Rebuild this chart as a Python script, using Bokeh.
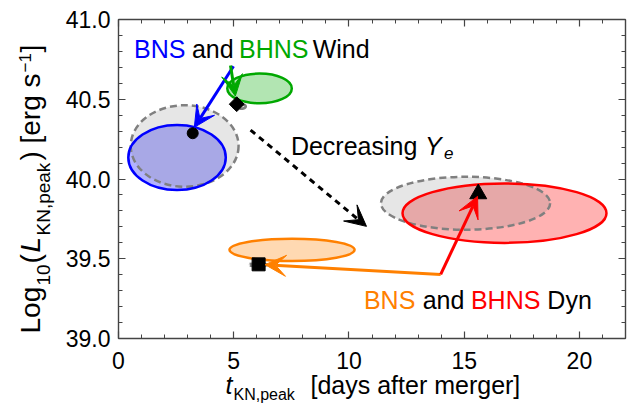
from math import pi
from bokeh.plotting import figure
from bokeh.models import (Range1d, LinearAxis, SingleIntervalTicker, PrintfTickFormatter,
                          CustomJSTickFormatter, Label, Arrow, VeeHead)
from bokeh.embed import file_html
from bokeh.resources import INLINE

# ---------------- data ----------------
# main (coloured) ellipses: BNS wind, BHNS wind, BNS dyn, BHNS dyn
ell_names = ["BNS Wind", "BHNS Wind", "BNS Dyn", "BHNS Dyn"]
ell_x = [2.54, 6.12, 7.53, 16.75]
ell_y = [40.135, 40.568, 39.556, 39.786]
ell_w = [4.23, 2.80, 5.43, 8.85]
ell_h = [0.408, 0.186, 0.140, 0.373]

# grey dashed ellipses (decreasing Ye)
alt_x = [2.87, 5.25, 6.05, 15.06]
alt_y = [40.207, 40.455, 39.462, 39.848]
alt_w = [4.68, 0.55, 0.85, 7.34]
alt_h = [0.511, 0.030, 0.018, 0.332]

# black markers
pt_x = [3.22, 5.13, 6.08, 15.61]
pt_y = [40.287, 40.469, 39.465, 39.907]

# arrows: BNS wind, BHNS wind, decreasing Ye, BNS dyn, BHNS dyn
arr_x0 = [4.99, 4.86, 5.73, 13.98, 13.98]
arr_y0 = [40.707, 40.712, 40.307, 39.402, 39.402]
arr_x1 = [3.29, 5.07, 10.76, 6.36, 15.58]
arr_y1 = [40.324, 40.520, 39.703, 39.463, 39.891]

x_lim = [0, 22]
y_lim = [39, 41]
x_tick_interval = 5
y_tick_interval = 0.5

# ---------------- layout / styles ----------------
W, H = 627, 403
# canvas pixels of the data frame
FL, FR, FT, FB = 118.0, 625.0, 19.0, 338.0
sx = (FR - FL) / (x_lim[1] - x_lim[0])
sy = (FB - FT) / (y_lim[1] - y_lim[0])
x_range = Range1d(x_lim[0] - FL / sx, x_lim[1] + (W - FR) / sx)
y_range = Range1d(y_lim[0] - (H - FB) / sy, y_lim[1] + FT / sy)


def xd(px):
    return x_lim[0] + (px - FL) / sx


def yd(py):
    return y_lim[0] + (FB - py) / sy


ell_colors = ["#0000FF", "#00A800", "#FF8000", "#FF0000"]
FONT = "Liberation Sans"
AX = "#444444"

p = figure(width=W, height=H, x_range=x_range, y_range=y_range,
           output_backend="svg", toolbar_location=None,
           x_axis_type=None, y_axis_type=None, min_border=0,
           min_border_left=0, min_border_right=0, min_border_top=0, min_border_bottom=0)
p.outline_line_color = None
p.background_fill_color = "white"


def make_axis(interval, fmt, labels, loc, bounds, standoff):
    return LinearAxis(ticker=SingleIntervalTicker(interval=interval, num_minor_ticks=5),
                      formatter=fmt if labels else CustomJSTickFormatter(code="return ''"),
                      fixed_location=loc, bounds=bounds,
                      major_tick_in=7, major_tick_out=0, minor_tick_in=4, minor_tick_out=0,
                      axis_line_color=AX, major_tick_line_color=AX, minor_tick_line_color=AX,
                      axis_line_width=1.4, major_tick_line_width=1.2, minor_tick_line_width=1.0,
                      major_label_text_font=FONT, major_label_text_font_size="23px",
                      major_label_text_color="black", major_label_standoff=standoff)


xb = (x_lim[0], x_lim[1])
yb = (y_lim[0], y_lim[1])
p.add_layout(make_axis(x_tick_interval, PrintfTickFormatter(format="%d"), True, y_lim[0], xb, 13), "below")
p.add_layout(make_axis(y_tick_interval, PrintfTickFormatter(format="%.1f"), True, x_lim[0], yb, 8), "left")
p.add_layout(make_axis(x_tick_interval, None, False, y_lim[1], xb, 0), "above")
p.add_layout(make_axis(y_tick_interval, None, False, x_lim[1], yb, 0), "right")

# coloured ellipse fills
p.ellipse(x=ell_x, y=ell_y, width=ell_w, height=ell_h, fill_color=ell_colors,
          fill_alpha=0.3, line_color=None)
# grey dashed ellipses
p.ellipse(x=alt_x, y=alt_y, width=alt_w, height=alt_h, fill_color="#808080",
          fill_alpha=0.2, line_color="#808080", line_width=2.5, line_dash="7 4")
# coloured outlines
p.ellipse(x=ell_x, y=ell_y, width=ell_w, height=ell_h, fill_color=None,
          line_color=ell_colors, line_width=2.5)

# arrows
arr_colors = ["#0000FF", "#00A800", "black", "#FF8000", "#FF0000"]
arr_dash = ["solid", "solid", "6 5", "solid", "solid"]
for i in range(len(arr_x0)):
    c = arr_colors[i]
    p.add_layout(Arrow(x_start=arr_x0[i], y_start=arr_y0[i], x_end=arr_x1[i], y_end=arr_y1[i],
                       line_color=c, line_width=3, line_dash=arr_dash[i],
                       end=VeeHead(size=21, fill_color=c, line_color=c, line_width=1)))

# markers
p.scatter(x=pt_x[0:1], y=pt_y[0:1], marker="circle", size=11, color="black")
p.scatter(x=pt_x[1:2], y=pt_y[1:2], marker="square", size=10.5, angle=pi / 4, color="black")
p.scatter(x=pt_x[2:3], y=pt_y[2:3], marker="square", size=13, color="black")
p.scatter(x=pt_x[3:4], y=pt_y[3:4], marker="triangle", size=17, color="black")

BASE_FIX = 0.3  # fraction of font size by which the drawn text sits below its anchor


def lab(x, y, text, color="black", size=25, style="normal", rotated=False):
    shift = BASE_FIX * size
    if rotated:
        x = x - shift / sx
        ang = pi / 2
    else:
        y = y + shift / sy
        ang = 0.0
    p.add_layout(Label(x=x, y=y, text=text, text_color=color, text_font=FONT,
                       text_font_size=f"{size}px", text_font_style=style, angle=ang,
                       text_align="left", text_baseline="alphabetic"))


# in-plot annotations: first word anchored in data units, following words offset in pixels
wind_words = ["BNS", "and", "BHNS", "Wind"]
wind_cols = ["#0000FF", "black", "#00A800", "black"]
wind_off = [0, 58, 105, 178.7]
for w, c, o in zip(wind_words, wind_cols, wind_off):
    lab(0.671 + o / sx, 40.769, w, c)

dyn_words = ["BNS", "and", "BHNS", "Dyn"]
dyn_cols = ["#FF8000", "black", "#FF0000", "black"]
dyn_off = [0, 58.7, 107, 183.4]
for w, c, o in zip(dyn_words, dyn_cols, dyn_off):
    lab(10.65 + o / sx, 39.196, w, c)

lab(7.48, 40.158, "Decreasing")
lab(7.48 + 134 / sx, 40.158, "Y", style="italic")
lab(7.48 + 153 / sx, 40.158 - 4.5 / sy, "e", size=17, style="italic")

# x title
lab(xd(225), yd(392), "t", size=25, style="italic")
lab(xd(233), yd(399), "KN,peak", size=16)
lab(xd(310), yd(392), "[days after merger]", size=25)

# y title (rotated, reading upwards); x = baseline column, y = start of each piece
lab(xd(38), yd(333), "Log", size=28, rotated=True)
lab(xd(49), yd(285), "10", size=19, rotated=True)
lab(xd(38), yd(263), "(", size=28, rotated=True)
lab(xd(38), yd(252), "L", size=28, style="italic", rotated=True)
lab(xd(49), yd(235), "KN,peak", size=19, rotated=True)
lab(xd(38), yd(160), ")", size=28, rotated=True)
lab(xd(38), yd(143), "[erg s", size=28, rotated=True)
lab(xd(30), yd(72), "\u22121", size=17, rotated=True)
lab(xd(38), yd(52), "]", size=28, rotated=True)

open("out.html", "w").write(file_html(p, INLINE))
